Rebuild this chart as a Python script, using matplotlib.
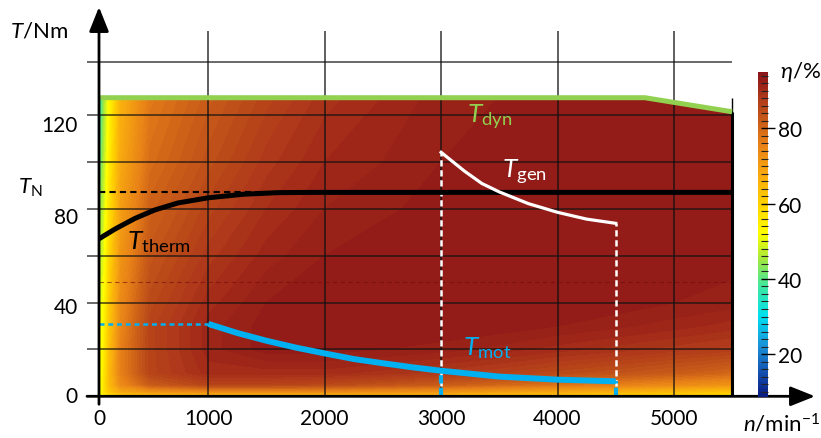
import numpy as np
import matplotlib
matplotlib.use("Agg")
import matplotlib.pyplot as plt
from matplotlib.colors import LinearSegmentedColormap, Normalize
from matplotlib.patches import Polygon
from matplotlib.ticker import MultipleLocator
import matplotlib.cm as cm

plt.rcParams['font.family'] = ['Lato', 'DejaVu Sans']
plt.rcParams['mathtext.fontset'] = 'custom'
plt.rcParams['mathtext.rm'] = 'Lato'
plt.rcParams['mathtext.it'] = 'Lato:italic'

# efficiency map (rows = torque, cols = speed), in %
speeds = [61, 100, 150, 250, 500, 1000, 1500, 2000, 3000, 4000, 5000, 5500]
torques = [0, 2, 5, 10, 20, 30, 40, 60, 80, 100, 128]
eff = [
    [50, 54, 56, 58, 60, 62, 62, 62, 62, 60, 58, 56],
    [50, 56, 62, 68, 72, 74, 74, 74, 72, 68, 64, 62],
    [50, 56, 64, 74, 82, 86, 86, 85, 82, 78, 74, 72],
    [50, 55, 64, 76, 86, 90, 90, 90, 88, 85, 82, 80],
    [50, 54, 63, 76, 86, 91, 93, 93, 92, 90, 88, 87],
    [49, 53, 62, 75, 86, 91, 93, 93.5, 93.5, 92.5, 91, 90],
    [48, 52, 61, 74, 85, 90, 92.5, 93.5, 93.5, 93.5, 92.5, 92],
    [45, 50, 59, 72, 83, 88, 91, 92.5, 93.5, 93.5, 93.5, 93],
    [42, 48, 57, 70, 81, 86, 89.5, 91.5, 93, 93.5, 93.5, 93.5],
    [38, 46, 55, 68, 79, 84, 88, 90.5, 92.5, 93.5, 93.5, 93.5],
    [33, 44, 53, 66, 77, 82, 86, 89, 92, 93, 93.5, 93.5],
]

# torque limits
dyn_n = [0, 4750, 5500]
dyn_T = [127.4, 127.4, 121.4]
T_N = 87.0
therm_n = [61, 200, 370, 540, 740, 1000, 1300, 1600, 1900, 5500]
therm_T = [67.2, 71.4, 75.9, 79.5, 82.5, 84.7, 86.2, 86.9, 87.0, 87.0]
gen_n = [3000, 3100, 3200, 3350, 3500, 3750, 4000, 4250, 4500]
gen_T = [104.1, 100.1, 96.1, 90.8, 87.2, 82.2, 78.5, 75.6, 73.8]
mot_n = [1000, 1250, 1500, 1750, 2000, 2250, 2500, 2750, 3000, 3500, 4000, 4500]
mot_T = [30.9, 27.0, 23.7, 20.8, 18.3, 15.9, 14.1, 12.4, 10.9, 8.4, 7.1, 6.4]

x_ticks = [0, 1000, 2000, 3000, 4000, 5000]
y_ticks = [0, 40, 80, 120]
y_grid = [20, 40, 60, 80, 100, 120, 142.5]
cb_ticks = [20, 40, 60, 80]

eta_min, eta_max = 8.6, 95
cmap_nodes = [(8.6, '#0a1a80'), (15, '#1450b0'), (22, '#1a90d8'), (30, '#00e0f0'),
              (38, '#40e8a0'), (45, '#a0e840'), (52, '#ffff00'), (60, '#ffd200'),
              (68, '#f8a810'), (76, '#e88018'), (82, '#c85c18'), (88, '#b03a1a'),
              (92, '#9a2218'), (95, '#8a1419')]
cmap = LinearSegmentedColormap.from_list(
    'eta', [((v - eta_min) / (eta_max - eta_min), c) for v, c in cmap_nodes])
norm = Normalize(eta_min, eta_max)

W, H = 821, 439
fig = plt.figure(figsize=(W / 100, H / 100), dpi=100)

# axes placed so that data coords match the picture's pixels
x0, x1 = 61, 6212
y0, y1 = 0, 166.1
ax = fig.add_axes([99 / W, (H - 397.3) / H, (815 - 99) / W, (397.3 - 8) / H])
ax.set_xlim(x0, x1)
ax.set_ylim(y0, y1)
ax.set_axis_off()

n_max = speeds[-1]
cs = ax.contourf(speeds, torques, eff, levels=np.arange(8.5, 95.6, 1.0),
                 cmap=cmap, norm=norm, zorder=1)
env = Polygon([(x0, 0), (x0, dyn_T[0])] + list(zip(dyn_n[1:], dyn_T[1:])) + [(n_max, 0)],
              closed=True, transform=ax.transData, facecolor='none', edgecolor='none')
ax.add_patch(env)
cs.set_clip_path(env)

# grid
ax.hlines(y_grid, -42, n_max, color='#111111', lw=1.1, alpha=0.8, clip_on=False, zorder=2)
ax.vlines(x_ticks[1:], 0, 155.8, color='#111111', lw=1.1, alpha=0.85, zorder=2)
ax.hlines(48.6, x0, n_max, color='#6e0c0c', lw=0.8, ls=(0, (4, 3)), alpha=0.6, zorder=2)
ax.vlines(n_max, 0, 127.4, color='k', lw=1.0, zorder=2)
ax.vlines(n_max, 0, dyn_T[-1], color='k', lw=2.2, zorder=3)

# axes arrows
arrow = dict(arrowstyle='-|>,head_length=0.75,head_width=0.3', color='k', lw=2.0,
             shrinkA=0, shrinkB=0, mutation_scale=20)
ax.annotate('', xy=(x1, 0), xytext=(-42, 0), arrowprops=arrow, annotation_clip=False, zorder=6)
ax.annotate('', xy=(x0, y1), xytext=(x0, -3.4), arrowprops=arrow, annotation_clip=False, zorder=6)

# curves
ax.plot(dyn_n, dyn_T, color='#92d050', lw=3.6, solid_capstyle='butt', zorder=4)
ax.plot([x0, 1500], [T_N, T_N], color='k', lw=1.5, ls=(0, (3, 2)), zorder=4)
ax.plot(therm_n, therm_T, color='k', lw=3.6, solid_capstyle='butt',
        solid_joinstyle='round', zorder=5)
ax.plot(gen_n, gen_T, color='white', lw=2.3, solid_joinstyle='round', zorder=5)
for n, t in [(gen_n[0], gen_T[0]), (gen_n[-1], gen_T[-1])]:
    ax.plot([n, n], [0, t], color='white', lw=1.8, ls=(0, (2.5, 1.5)), zorder=4)
ax.plot(mot_n, mot_T, color='#00b0f0', lw=4.3, solid_capstyle='butt',
        solid_joinstyle='round', zorder=5)
ax.plot([x0, mot_n[0]], [mot_T[0], mot_T[0]], color='#00b0f0', lw=1.8, ls=(0, (2, 1.5)), zorder=5)
for n in (3000, 4500):
    t = np.interp(n, mot_n, mot_T)
    ax.plot([n, n], [0, t], color='#00b0f0', lw=3.0, ls=(0, (2, 1)), zorder=5)

# curve labels
ax.text(3222, 119.6, r'$T_{\rm dyn}$', color='#92d050', fontsize=19, ha='left', va='center', zorder=7)
ax.text(3520, 96, r'$T_{\rm gen}$', color='white', fontsize=19, ha='left', va='center', zorder=7)
ax.text(299, 66.2, r'$T_{\rm therm}$', color='k', fontsize=19, ha='left', va='center', zorder=7)
ax.text(3188, 21, r'$T_{\rm mot}$', color='#00b0f0', fontsize=19, ha='left', va='center', zorder=7)

# tick labels
for t in x_ticks:
    ax.text(max(t, x0), -9.4, str(t), fontsize=15, ha='center', va='center', clip_on=False)
for t, off in zip(y_ticks, [0, -2.1, -3.4, -4.3]):
    ax.text(-120, t + off, str(t), fontsize=15, ha='right', va='center', clip_on=False)

fig.text(10 / W, 1 - 31 / H, r'$T$/Nm', fontsize=16, ha='left', va='center')
fig.text(43 / W, 1 - 188 / H, r'$T_{\rm N}$', fontsize=16, ha='right', va='center')
fig.text(743 / W, 1 - 424 / H, r'$n$/min$^{-1}$', fontsize=16, ha='left', va='center')
fig.text(780 / W, 1 - 72 / H, r'$\eta$/%', fontsize=16, ha='left', va='center')

# colour bar
cax = fig.add_axes([758 / W, (H - 398) / H, 10 / W, 325 / H])
cb = fig.colorbar(cm.ScalarMappable(norm=norm, cmap=cmap), cax=cax)
cb.outline.set_visible(False)
cb.set_ticks(cb_ticks)
cax.yaxis.set_minor_locator(MultipleLocator(2))
cax.tick_params(which='major', labelsize=15, length=10, width=1, direction='inout', pad=2)
cax.tick_params(which='minor', length=5, width=0.8, direction='in', color='#222222')

fig.savefig('out.png', dpi=100)
